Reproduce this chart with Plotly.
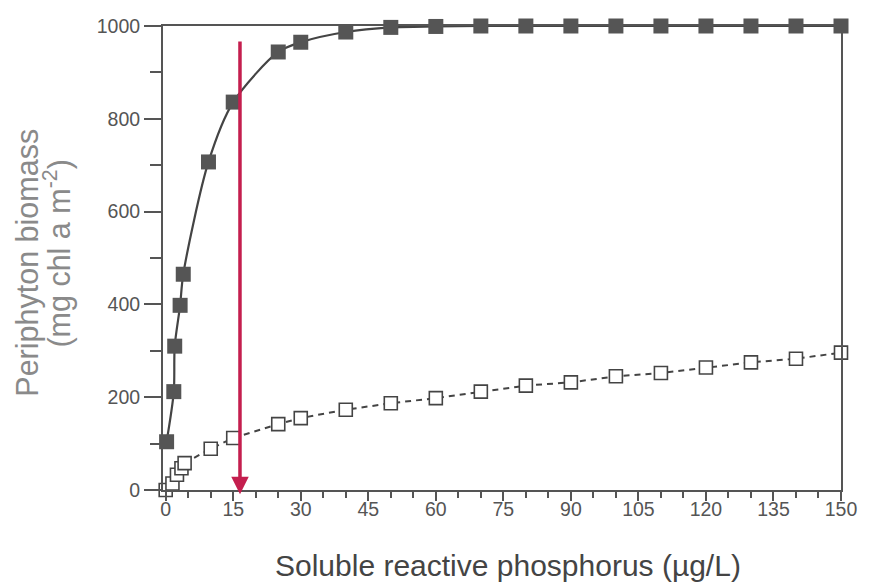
import plotly.graph_objects as go

# ---- data ----
high_x = [0.2, 1.8, 2.0, 3.2, 3.9, 9.5, 15, 25, 30, 40, 50, 60, 70, 80, 90, 100, 110, 120, 130, 140, 150]
high_y = [104, 212, 310, 398, 465, 707, 836, 944, 965, 987, 997, 999, 1000, 1000, 1000, 1000, 1000, 1000, 1000, 1000, 1000]

low_x = [0, 1.5, 2.5, 3.5, 4.2, 10, 15, 25, 30, 40, 50, 60, 70, 80, 90, 100, 110, 120, 130, 140, 150]
low_y = [0, 14, 33, 47, 58, 89, 112, 142, 155, 173, 187, 198, 212, 225, 232, 245, 252, 264, 275, 283, 296]

x_ticks = [0, 15, 30, 45, 60, 75, 90, 105, 120, 135, 150]
y_ticks = [0, 200, 400, 600, 800, 1000]

ARROW_X = 16.5
ARROW_TOP = 970
ARROW_TIP = -9

FONT = "Liberation Sans, Arial, sans-serif"
AX = "#555555"

fig = go.Figure()
fig.add_trace(go.Scatter(
    x=low_x, y=low_y, mode="lines+markers",
    line=dict(color="#444444", width=2, dash="6px,5px"),
    marker=dict(symbol="square", size=13, color="white",
                line=dict(color="#444444", width=1.6)),
    cliponaxis=False, showlegend=False))
fig.add_trace(go.Scatter(
    x=high_x, y=high_y, mode="lines+markers",
    line=dict(color="#444444", width=2.2, shape="spline", smoothing=0.8),
    marker=dict(symbol="square", size=15, color="#555555"),
    cliponaxis=False, showlegend=False))

fig.add_annotation(x=ARROW_X, y=ARROW_TIP, ax=ARROW_X, ay=ARROW_TOP,
                   xref="x", yref="y", axref="x", ayref="y", text="",
                   showarrow=True, arrowhead=2, arrowsize=1.0, arrowwidth=3.5,
                   arrowcolor="#C41E4E", standoff=0)

fig.add_annotation(text="Periphyton biomass", xref="paper", yref="paper",
                   x=-0.199, y=0.49, textangle=-90, showarrow=False,
                   xanchor="center", yanchor="middle",
                   font=dict(family=FONT, size=30.5, color="#8a8a8a"))
fig.add_annotation(text="(mg chl a m<sup>-2</sup>)", xref="paper", yref="paper",
                   x=-0.156, y=0.51, textangle=-90, showarrow=False,
                   xanchor="center", yanchor="middle",
                   font=dict(family=FONT, size=30.5, color="#8a8a8a"))
fig.add_annotation(text="Soluble reactive phosphorus (µg/L)", xref="paper", yref="paper",
                   x=0.509, y=-0.163, showarrow=False,
                   xanchor="center", yanchor="middle",
                   font=dict(family=FONT, size=30, color="#444444"))

fig.update_xaxes(range=[-0.6, 150], tickvals=x_ticks, ticktext=[str(v) for v in x_ticks],
                 showgrid=False, zeroline=False, showline=True, mirror=True,
                 linecolor=AX, linewidth=2, ticks="outside", ticklen=9, tickwidth=2,
                 tickcolor=AX, tickfont=dict(family=FONT, size=19.5, color=AX),
                 ticklabelstandoff=-8,
                 minor=dict(dtick=5, tick0=0, ticks="outside", ticklen=6, tickwidth=2,
                            tickcolor=AX, showgrid=False))
fig.update_yaxes(range=[0, 1000], tickvals=y_ticks, ticktext=[str(v) for v in y_ticks],
                 showgrid=False, zeroline=False, showline=True, mirror=True,
                 linecolor=AX, linewidth=2, ticks="outside", ticklen=17, tickwidth=2,
                 tickcolor=AX, tickfont=dict(family=FONT, size=19.5, color=AX),
                 minor=dict(dtick=100, tick0=0, ticks="outside", ticklen=11, tickwidth=2,
                            tickcolor=AX, showgrid=False))

fig.update_layout(width=869, height=584, margin=dict(l=163, r=21, t=26, b=94),
                  plot_bgcolor="white", paper_bgcolor="white",
                  font=dict(family=FONT))
fig.write_html("out.html", config={"displayModeBar": False},
               post_script="document.body.style.margin='0';document.body.style.overflow='hidden';")
